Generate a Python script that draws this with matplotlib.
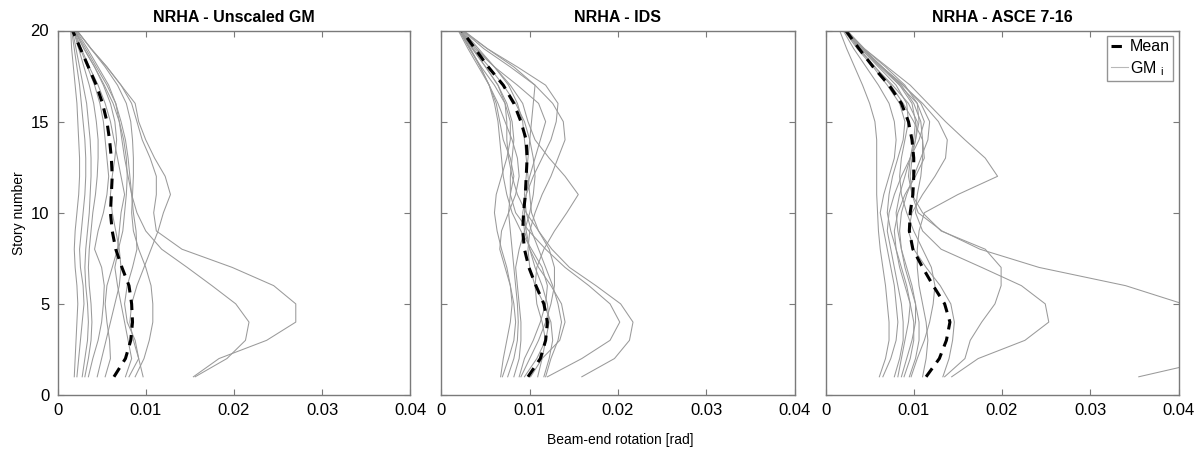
import numpy as np
import matplotlib.pyplot as plt

plt.rcParams['font.family'] = ['Liberation Sans', 'DejaVu Sans']

# story levels 1..20
stories = np.arange(1, 21)

# beam-end rotations in units of 1e-3 rad (story 1 -> 20)
gm_unscaled = [
    [1.9, 2.0, 2.1, 2.2, 2.3, 2.2, 2.0, 1.9, 2.0, 2.2, 2.4, 2.5, 2.5, 2.4, 2.3, 2.2, 2.0, 1.8, 1.6, 1.5],
    [2.2, 2.4, 2.6, 2.8, 3.0, 2.9, 2.6, 2.5, 2.7, 2.9, 3.1, 3.2, 3.2, 3.1, 2.9, 2.7, 2.5, 2.2, 1.9, 1.6],
    [2.8, 3.1, 3.4, 3.5, 3.4, 3.2, 3.1, 3.2, 3.4, 3.6, 3.7, 3.8, 3.8, 3.7, 3.5, 3.3, 2.9, 2.5, 2.1, 1.7],
    [3.1, 3.5, 3.8, 3.9, 3.8, 3.6, 3.5, 3.6, 3.8, 4.0, 4.3, 4.5, 4.6, 4.6, 4.4, 4.1, 3.6, 3.0, 2.4, 1.8],
    [3.5, 4.0, 4.6, 5.0, 5.2, 5.3, 5.0, 4.2, 4.6, 5.2, 5.6, 5.8, 5.6, 5.4, 5.2, 4.8, 4.2, 3.4, 2.6, 1.8],
    [5.4, 6.0, 5.9, 5.6, 5.4, 5.6, 6.2, 6.8, 7.0, 7.2, 7.6, 7.2, 6.8, 6.4, 6.0, 5.4, 4.6, 3.6, 2.7, 1.9],
    [7.7, 8.4, 8.0, 7.6, 7.2, 6.8, 6.5, 6.9, 7.4, 7.6, 7.8, 7.9, 7.8, 7.5, 7.0, 6.3, 5.3, 4.2, 3.0, 2.0],
    [8.1, 9.2, 8.8, 7.9, 7.6, 7.9, 8.5, 9.0, 8.9, 8.6, 8.4, 8.2, 8.0, 7.7, 7.2, 6.6, 5.6, 4.4, 3.2, 2.0],
    [8.8, 9.8, 10.4, 10.8, 10.8, 10.6, 10.0, 9.2, 8.6, 8.4, 8.5, 8.6, 8.6, 8.5, 8.3, 7.8, 6.8, 5.4, 3.8, 2.2],
    [9.7, 9.2, 8.6, 8.2, 8.4, 9.0, 9.8, 10.6, 11.4, 12.0, 12.8, 12.2, 11.0, 10.0, 9.2, 8.8, 7.2, 5.6, 3.8, 2.2],
    [15.4, 18.3, 23.7, 27.0, 27.0, 24.5, 19.8, 14.1, 11.2, 10.9, 11.2, 11.2, 10.5, 9.6, 9.0, 8.4, 7.2, 5.6, 3.8, 2.2],
    [15.6, 19.2, 21.3, 21.7, 20.2, 17.5, 14.7, 11.8, 10.0, 9.0, 8.4, 8.0, 7.6, 7.3, 7.0, 6.6, 5.8, 4.6, 3.4, 2.1],
    [4.5, 5.0, 5.5, 6.0, 6.5, 7.0, 7.2, 7.0, 6.6, 6.2, 6.0, 6.2, 6.5, 6.7, 6.5, 6.0, 5.2, 4.2, 3.0, 1.9],
]
mean_unscaled = [6.4, 7.7, 8.3, 8.5, 8.4, 8.1, 7.3, 6.6, 6.2, 6.0, 6.1, 6.2, 6.1, 5.9, 5.6, 5.1, 4.4, 3.5, 2.6, 1.7]

gm_ids = [
    [6.7, 7.0, 7.4, 7.8, 8.0, 7.8, 7.4, 6.8, 6.3, 6.0, 6.2, 6.8, 7.4, 7.8, 7.8, 7.2, 6.0, 4.5, 3.2, 2.0],
    [6.9, 7.6, 8.2, 8.4, 8.2, 7.8, 7.2, 6.6, 6.8, 7.6, 8.4, 8.8, 8.6, 8.0, 7.2, 6.4, 5.4, 4.2, 3.0, 1.9],
    [7.5, 8.2, 8.6, 8.7, 8.6, 8.4, 8.2, 8.0, 7.8, 7.6, 7.8, 8.2, 7.8, 7.0, 6.6, 6.2, 5.4, 4.4, 3.3, 2.1],
    [8.2, 8.8, 9.0, 9.0, 8.8, 8.6, 8.4, 8.8, 9.4, 10.0, 10.4, 10.6, 10.4, 10.0, 9.4, 8.4, 7.0, 5.4, 3.6, 2.2],
    [8.8, 9.4, 10.4, 11.2, 11.8, 12.0, 11.4, 10.2, 9.0, 8.0, 7.4, 7.0, 6.8, 6.6, 6.4, 6.0, 5.4, 4.4, 3.2, 2.0],
    [9.0, 10.0, 11.0, 11.8, 12.4, 12.8, 12.8, 12.2, 11.0, 9.6, 8.6, 8.0, 7.6, 7.4, 7.4, 7.2, 6.4, 5.0, 3.5, 2.1],
    [9.4, 10.8, 11.8, 12.2, 12.0, 11.4, 10.6, 10.0, 9.6, 9.4, 9.6, 10.0, 10.6, 11.2, 11.8, 11.0, 8.6, 6.0, 3.8, 2.2],
    [10.1, 11.4, 13.4, 14.0, 13.6, 12.4, 11.0, 10.0, 9.4, 9.2, 9.6, 10.4, 11.4, 12.4, 13.0, 13.2, 11.8, 8.6, 5.2, 2.4],
    [10.9, 11.4, 11.8, 11.4, 10.8, 10.6, 10.8, 11.6, 12.8, 14.2, 15.5, 14.0, 12.2, 10.6, 9.8, 9.2, 7.8, 6.0, 4.0, 2.3],
    [11.6, 12.2, 12.6, 12.4, 11.6, 10.6, 10.0, 9.8, 10.0, 10.6, 11.4, 12.4, 13.2, 14.0, 13.8, 12.6, 10.6, 7.8, 4.8, 2.4],
    [11.8, 12.4, 13.2, 13.6, 13.2, 12.6, 11.8, 11.0, 10.2, 9.6, 9.4, 9.6, 9.8, 10.0, 10.2, 10.4, 10.6, 8.2, 5.2, 2.5],
    [12.0, 15.9, 19.1, 20.2, 19.1, 16.7, 14.0, 11.8, 9.9, 8.4, 7.8, 7.8, 8.0, 8.2, 8.0, 7.4, 6.4, 5.0, 3.5, 2.1],
    [15.9, 19.6, 21.3, 21.7, 20.3, 17.5, 14.5, 12.5, 11.0, 10.2, 10.0, 9.8, 9.6, 9.4, 9.2, 8.6, 7.6, 6.0, 4.2, 2.4],
]
mean_ids = [9.8, 11.2, 11.8, 12.0, 11.6, 10.7, 9.9, 9.4, 9.2, 9.3, 9.5, 9.6, 9.7, 9.6, 9.0, 8.2, 7.0, 5.3, 3.8, 2.3]

gm_asce = [
    [6.1, 6.8, 7.2, 7.2, 7.0, 6.8, 6.5, 6.2, 6.0, 5.9, 5.8, 5.8, 5.8, 5.8, 5.6, 5.0, 4.2, 3.3, 2.4, 1.6],
    [6.5, 7.4, 8.0, 8.2, 8.0, 7.8, 7.4, 7.0, 6.6, 6.2, 6.6, 7.2, 7.8, 8.0, 7.8, 7.2, 6.0, 4.6, 3.2, 2.0],
    [8.2, 8.6, 9.0, 9.4, 9.6, 9.2, 8.6, 8.0, 7.4, 7.0, 7.2, 7.6, 8.2, 8.8, 9.0, 8.4, 7.0, 5.4, 3.6, 2.1],
    [8.6, 9.2, 9.8, 10.2, 10.2, 9.8, 9.2, 8.6, 8.2, 8.0, 8.4, 9.0, 9.6, 10.2, 10.4, 9.4, 7.6, 5.6, 3.8, 2.2],
    [8.9, 9.6, 10.0, 10.0, 9.6, 9.0, 8.4, 8.0, 7.8, 8.2, 9.0, 10.2, 11.2, 11.0, 10.0, 8.8, 7.4, 5.6, 3.8, 2.2],
    [9.5, 10.2, 10.6, 10.6, 10.2, 9.6, 9.0, 8.6, 8.4, 8.6, 9.2, 10.0, 10.8, 11.6, 11.8, 10.8, 8.8, 6.4, 4.2, 2.4],
    [9.7, 10.4, 11.2, 11.8, 12.2, 12.4, 12.0, 11.0, 10.0, 9.2, 8.6, 8.4, 8.6, 9.0, 9.4, 9.2, 8.0, 6.0, 4.0, 2.3],
    [7.8, 8.4, 8.8, 8.8, 8.6, 8.2, 7.8, 7.4, 7.0, 7.2, 7.8, 8.6, 9.6, 10.6, 11.2, 10.4, 8.4, 6.2, 4.0, 2.2],
    [13.3, 14.0, 14.4, 14.6, 14.2, 13.0, 11.4, 10.0, 9.4, 9.8, 11.0, 12.4, 13.6, 13.8, 12.8, 11.0, 8.8, 6.4, 4.2, 2.4],
    [13.5, 15.8, 16.4, 17.7, 19.2, 19.9, 19.9, 18.1, 13.1, 11.0, 9.8, 9.4, 9.6, 10.0, 10.2, 9.8, 8.4, 6.4, 4.3, 2.4],
    [14.3, 17.3, 22.6, 25.3, 24.9, 22.2, 17.7, 13.1, 11.0, 10.2, 10.4, 10.8, 11.0, 11.0, 10.8, 10.0, 8.6, 6.4, 4.2, 2.4],
    [11.0, 11.4, 11.6, 11.4, 11.0, 10.6, 10.4, 10.4, 10.6, 11.2, 15.0, 19.5, 18.1, 15.8, 13.6, 11.6, 9.6, 7.0, 4.4, 2.4],
    [35.5, 44.5, 52.0, 50.0, 40.5, 34.0, 24.2, 17.5, 13.2, 10.5, 9.8, 9.6, 9.8, 10.2, 10.6, 10.4, 9.0, 6.8, 4.4, 2.4],
]
mean_asce = [11.4, 12.9, 13.7, 14.1, 13.5, 12.2, 11.0, 9.9, 9.5, 9.6, 9.9, 10.0, 10.0, 9.8, 9.4, 8.6, 7.2, 5.4, 3.8, 2.3]

titles = ['NRHA - Unscaled GM', 'NRHA - IDS', 'NRHA - ASCE 7-16']
panels = [(gm_unscaled, mean_unscaled), (gm_ids, mean_ids), (gm_asce, mean_asce)]
lefts = [57.5, 441.5, 825.5]

W, H = 1201, 454
fig = plt.figure(figsize=(W / 100, H / 100), dpi=100)
frame = '#7a7a7a'
gm_color = '#9a9a9a'

for i, (gms, mean) in enumerate(panels):
    ax = fig.add_axes([lefts[i] / W, 59 / H, 353 / W, 364.5 / H])
    for g in gms:
        ax.plot(np.array(g) * 1e-3, stories, color=gm_color, lw=0.75)
    mean_line, = ax.plot(np.array(mean) * 1e-3, stories, color='black', lw=2.2,
                         ls=(0, (3.4, 2.4)))
    ax.set_xlim(0, 0.04)
    ax.set_ylim(0, 20)
    ax.set_xticks([0, 0.01, 0.02, 0.03, 0.04])
    ax.set_xticklabels(['0', '0.01', '0.02', '0.03', '0.04'])
    ax.set_yticks([0, 5, 10, 15, 20])
    ax.tick_params(direction='in', top=True, right=True, length=4,
                   color=frame, labelsize=12, pad=6)
    for s in ax.spines.values():
        s.set_color(frame)
        s.set_linewidth(1.0)
    if i > 0:
        ax.set_yticklabels([])
    ax.set_title(titles[i], fontsize=11.5, fontweight='bold', pad=6)
    if i == 2:
        gm_handle, = ax.plot([], [], color='#b8b8b8', lw=0.8)
        leg = ax.legend([mean_line, gm_handle], ['Mean', r'GM $\mathregular{_i}$'],
                        loc='upper right', fontsize=11.5, frameon=True, fancybox=False,
                        handlelength=1.1, handletextpad=0.1, borderpad=0.2,
                        labelspacing=0.3, borderaxespad=0.35)
        leg.get_frame().set_edgecolor(frame)
        leg.get_frame().set_linewidth(1.0)

fig.text(620 / W, 1 - 440 / H, 'Beam-end rotation [rad]', ha='center', va='center', fontsize=10)
fig.text(19 / W, 1 - 213 / H, 'Story number', ha='center', va='center', rotation=90, fontsize=10)

fig.savefig('out.png', dpi=100)
